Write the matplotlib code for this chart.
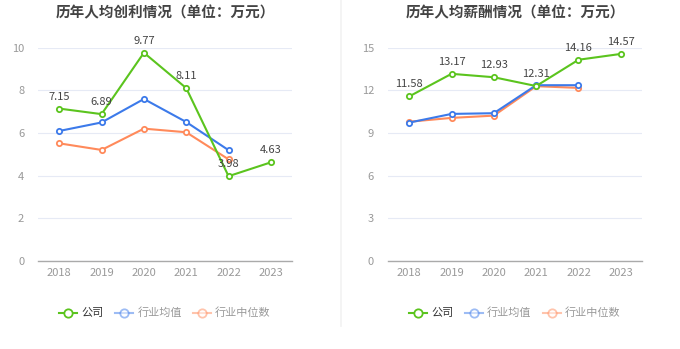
import matplotlib
matplotlib.use('Agg')
import matplotlib.pyplot as plt
from matplotlib.lines import Line2D

plt.rcParams['font.family'] = ['Noto Sans CJK SC', 'DejaVu Sans']

years = ['2018', '2019', '2020', '2021', '2022', '2023']

# 历年人均创利 (万元)
profit_company = [7.15, 6.89, 9.77, 8.11, 3.98, 4.63]
profit_mean = [6.10, 6.50, 7.60, 6.52, 5.20]
profit_median = [5.52, 5.21, 6.21, 6.04, 4.77]

# 历年人均薪酬 (万元)
salary_company = [11.58, 13.17, 12.93, 12.31, 14.16, 14.57]
salary_mean = [9.74, 10.35, 10.40, 12.37, 12.37]
salary_median = [9.80, 10.07, 10.23, 12.30, 12.18]

series_names = ['公司', '行业均值', '行业中位数']
colors = ['#5BC41E', '#3C7AEA', '#FF8A5B']

fig = plt.figure(figsize=(6.8, 3.49), dpi=100)


def draw_panel(rect, title, company, mean, median, ymax, step):
    ax = fig.add_axes(rect)
    x_all = range(len(years))
    for vals, c in [(median, colors[2]), (mean, colors[1]), (company, colors[0])]:
        ax.plot(range(len(vals)), vals, color=c, lw=1.5, marker='o', ms=3.8,
                mfc='white', mec=c, mew=1.3, zorder=3)
    for i, v in enumerate(company):
        ax.annotate(f'{v:.2f}', (i, v), xytext=(0, 5), textcoords='offset points',
                    ha='center', va='bottom', fontsize=8, color='#444444', zorder=4)
    ax.set_xlim(-0.5, len(years) - 0.5)
    ax.set_ylim(0, ymax)
    ax.set_yticks([step * k for k in range(int(ymax / step) + 1)])
    ax.set_xticks(list(x_all))
    ax.set_xticklabels(years)
    ax.tick_params(axis='both', length=0, labelsize=8, colors='#999999')
    ax.tick_params(axis='x', pad=5)
    ax.tick_params(axis='y', pad=10)
    ax.grid(axis='y', color='#E6EAF5', lw=0.8)
    ax.set_axisbelow(True)
    for s in ['top', 'right', 'left']:
        ax.spines[s].set_visible(False)
    ax.spines['bottom'].set_color('#AAAAAA')
    ax.spines['bottom'].set_linewidth(1.0)
    cx = rect[0] + rect[2] / 2
    fig.text(cx, 0.965, title, ha='center', va='center', fontsize=10.5,
             fontweight='bold', color='#444444')

    handles = [Line2D([], [], color=c, lw=1.5, marker='o', ms=6, mfc='white',
                      mec=c, mew=1.3, alpha=1.0 if k == 0 else 0.5)
               for k, c in enumerate(colors)]
    leg = fig.legend(handles, series_names, loc='center',
                     bbox_to_anchor=(cx, 0.103), ncol=3, frameon=False,
                     fontsize=8, handlelength=1.6, handletextpad=0.4,
                     columnspacing=1.0)
    for k, t in enumerate(leg.get_texts()):
        t.set_color('#333333' if k == 0 else '#999999')
    return ax


draw_panel([0.056, 0.252, 0.3735, 0.611], '历年人均创利情况（单位：万元）',
           profit_company, profit_mean, profit_median, 10, 2)
draw_panel([0.5706, 0.252, 0.3735, 0.611], '历年人均薪酬情况（单位：万元）',
           salary_company, salary_mean, salary_median, 15, 3)

fig.add_artist(Line2D([0.5015, 0.5015], [0.066, 1.0], color='#F2F2F2', lw=1.2))

fig.savefig('out.png', dpi=100)
